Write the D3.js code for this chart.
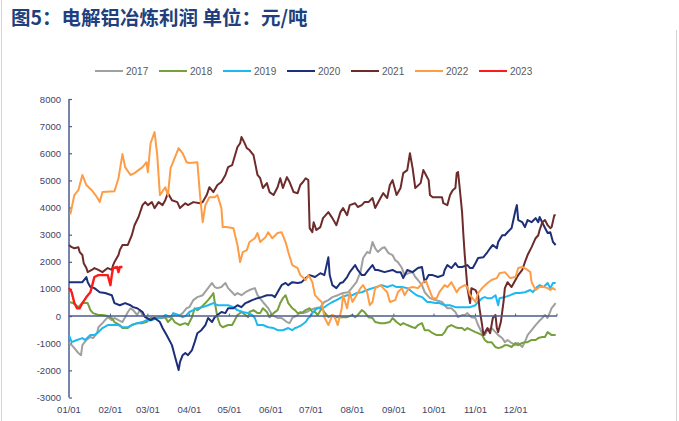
<!DOCTYPE html>
<html><head><meta charset="utf-8">
<script src="https://cdn.jsdelivr.net/npm/d3@7"></script>
<style>body{margin:0;background:#fff}svg{display:block}</style>
</head><body>
<svg id="c" width="679" height="421"></svg>
<script>
const title = "图5：电解铝冶炼利润 单位：元/吨";
const seriesNames = ["2017","2018","2019","2020","2021","2022","2023"];
const seriesColors = ["#a0a0a0","#76a03c","#1cb8f2","#1c2f78","#6e2b2b","#ff9c46","#ff1a1a"];
const monthLabels = ["01/01","02/01","03/01","04/01","05/01","06/01","07/01","08/01","09/01","10/01","11/01","12/01"];
const monthDays = [0,31,59,90,120,151,181,212,243,273,304,334];
const yTicks = [8000,7000,6000,5000,4000,3000,2000,1000,0,-1000,-2000,-3000];

// [day of year, profit]
const s2017 = [[0,-990],[2,-1070],[4,-1180],[7,-1360],[9,-1440],[10,-1070],[13,-880],[16,-770],[18,-810],[21,-630],[22,-410],[25,-260],[27,-150],[29,-40],[32,-150],[34,-70],[37,-150],[40,-220],[42,-40],[44,150],[46,290],[48,220],[51,40],[53,220],[55,40],[58,-40],[61,-150],[64,-70],[70,-70],[74,-40],[79,40],[83,40],[85,110],[88,290],[90,330],[93,590],[96,700],[100,770],[104,1030],[107,1220],[109,1070],[111,1030],[114,1070],[117,1220],[119,1030],[122,880],[124,770],[126,850],[129,770],[132,880],[135,960],[139,1030],[141,770],[145,520],[149,290],[152,40],[156,-70],[159,-70],[163,-220],[165,-260],[167,-70],[171,40],[173,150],[175,110],[178,150],[180,220],[184,290],[188,330],[191,520],[194,590],[197,700],[201,770],[205,850],[209,880],[212,1070],[215,1250],[218,1620],[220,2140],[223,2360],[225,2320],[227,2730],[229,2500],[231,2360],[234,2500],[236,2540],[239,2320],[242,2250],[244,2060],[246,1990],[249,1770],[251,1510],[254,1580],[257,1620],[259,1440],[261,1330],[264,1140],[266,880],[270,660],[274,590],[279,520],[281,400],[283,290],[286,290],[289,150],[291,-40],[294,40],[296,40],[298,110],[301,-40],[304,-70],[306,-330],[309,-630],[311,-700],[313,-520],[316,-440],[319,-590],[321,-700],[324,-810],[326,-960],[328,-880],[331,-990],[334,-1070],[336,-990],[339,-1140],[341,-960],[343,-700],[346,-520],[349,-330],[351,-220],[354,-70],[356,40],[358,-70],[361,290],[364,480]];
const s2018 = [[0,520],[3,480],[7,330],[10,480],[14,480],[16,220],[18,110],[22,40],[25,40],[29,0],[32,-70],[34,-220],[38,-330],[40,-440],[44,-440],[47,-330],[51,-260],[55,-260],[58,-220],[61,-70],[64,-70],[68,-40],[72,-40],[74,-220],[77,-70],[79,-220],[83,-330],[87,-260],[89,-330],[92,-40],[94,290],[96,220],[99,330],[102,480],[104,590],[107,770],[108,850],[109,520],[111,-40],[113,-330],[115,-410],[119,-330],[122,-330],[124,-150],[126,40],[129,150],[132,40],[134,-40],[135,150],[138,220],[141,110],[143,110],[145,290],[148,150],[150,-40],[153,110],[156,220],[158,480],[160,660],[162,770],[164,480],[167,290],[169,220],[171,110],[174,110],[177,220],[180,290],[182,150],[184,150],[186,40],[189,290],[191,150],[194,-40],[197,40],[200,-40],[204,-40],[208,-40],[212,40],[214,-40],[216,40],[219,220],[221,150],[224,-40],[227,-70],[229,-220],[233,-260],[236,-260],[240,-220],[242,-70],[245,-220],[248,-330],[250,-260],[253,-330],[257,-410],[259,-440],[261,-330],[264,-260],[266,-520],[269,-520],[272,-630],[275,-700],[279,-700],[281,-590],[283,-410],[286,-330],[289,-410],[291,-440],[294,-440],[296,-520],[298,-440],[301,-520],[304,-590],[306,-630],[309,-700],[311,-880],[313,-960],[316,-960],[319,-1140],[321,-1180],[324,-1140],[326,-1070],[328,-1070],[331,-1140],[334,-990],[336,-1070],[339,-990],[341,-960],[343,-960],[346,-880],[349,-880],[351,-810],[354,-770],[356,-770],[358,-590],[361,-700],[364,-700]];
const s2019 = [[0,-700],[2,-960],[6,-880],[10,-810],[12,-880],[16,-700],[19,-700],[22,-590],[25,-440],[29,-330],[33,-330],[37,-330],[40,-410],[44,-410],[47,-330],[51,-260],[55,-220],[58,-150],[62,-150],[66,-70],[70,-40],[72,40],[76,-40],[78,110],[82,40],[85,-40],[88,40],[90,150],[93,220],[96,290],[100,330],[104,400],[108,480],[111,400],[115,400],[119,400],[123,330],[126,220],[130,150],[134,110],[137,40],[139,-70],[141,-330],[145,-330],[149,-410],[153,-440],[156,-520],[160,-520],[164,-440],[167,-520],[169,-440],[171,-410],[174,-330],[177,-220],[179,-70],[180,-40],[182,110],[184,220],[186,290],[190,290],[193,400],[197,520],[200,590],[204,700],[208,770],[212,770],[215,850],[219,880],[223,960],[227,1030],[230,1070],[234,1140],[238,1070],[242,1140],[245,1070],[249,1070],[253,1030],[257,880],[260,770],[264,700],[268,520],[270,520],[274,480],[277,480],[281,400],[285,400],[289,330],[292,330],[296,330],[300,330],[304,400],[306,520],[309,660],[311,700],[313,660],[316,660],[319,770],[321,400],[322,660],[326,700],[330,770],[334,850],[337,850],[341,880],[345,960],[347,880],[350,1070],[352,1140],[355,1070],[358,1220],[360,1030],[362,1220],[364,1220]];
const s2020 = [[0,1250],[7,1250],[10,1250],[13,1440],[14,1250],[16,1070],[19,1030],[23,880],[27,850],[32,770],[34,480],[38,400],[42,480],[46,400],[48,330],[51,290],[55,150],[57,-40],[61,-150],[64,-70],[68,-220],[70,-440],[73,-700],[77,-1070],[79,-1440],[82,-1990],[83,-1700],[85,-1440],[87,-1360],[89,-1440],[92,-1250],[94,-960],[96,-630],[99,-520],[102,-330],[104,-70],[107,-220],[109,-40],[111,40],[114,150],[117,110],[119,290],[123,290],[126,400],[129,330],[132,480],[134,520],[137,590],[141,660],[144,700],[148,770],[152,770],[154,700],[156,880],[159,1140],[162,1220],[164,1140],[167,1250],[171,1220],[174,1250],[177,1400],[180,1510],[184,1440],[188,1580],[191,1510],[194,2170],[195,1510],[197,1140],[200,1030],[203,1220],[205,1250],[208,1440],[210,1620],[214,1880],[216,1700],[219,1510],[221,1510],[224,1700],[227,1880],[229,1700],[231,1700],[236,1620],[242,1700],[245,1620],[248,1620],[250,1400],[253,1700],[257,1620],[261,1770],[264,1810],[266,1250],[269,1510],[272,1510],[276,1440],[280,1510],[281,1700],[283,1880],[286,1770],[289,1950],[291,1810],[294,1810],[298,1880],[300,1770],[302,1770],[304,1950],[306,2140],[310,2170],[313,2360],[315,2500],[317,2620],[320,2500],[321,2730],[324,2980],[326,2980],[328,3090],[331,3240],[334,3910],[335,4090],[336,3540],[339,3460],[341,3280],[343,3540],[346,3460],[349,3610],[351,3460],[352,3650],[355,3350],[358,3060],[360,3090],[362,2730],[364,2620]];
const s2021 = [[0,2620],[2,2540],[4,2500],[7,2540],[8,2360],[10,2250],[11,1950],[13,1770],[14,1620],[17,1700],[19,1770],[22,1700],[25,1620],[29,1770],[32,1700],[33,1880],[34,1990],[37,2250],[38,2430],[40,2620],[44,2620],[47,2980],[49,3350],[52,3650],[55,4090],[57,4200],[59,4090],[62,4200],[64,3980],[67,4200],[70,4090],[72,4270],[74,4530],[77,4270],[81,4200],[83,3980],[87,4160],[89,4090],[93,4200],[98,4160],[100,4200],[103,4460],[105,4750],[108,4570],[111,4830],[114,4940],[117,5200],[119,5490],[122,5560],[126,6230],[128,6370],[129,6600],[131,6410],[133,6190],[135,6120],[138,5930],[141,5200],[143,5080],[145,4720],[148,4900],[150,4570],[153,4460],[156,4750],[158,5080],[160,4720],[163,5120],[165,4940],[168,4570],[171,4530],[173,4830],[175,4940],[177,5080],[179,5010],[180,3240],[182,3090],[183,3460],[185,3170],[188,3280],[190,3610],[194,3830],[197,3610],[200,3350],[203,3830],[205,3980],[208,3720],[210,4090],[214,4160],[216,4020],[219,4090],[221,4200],[224,4200],[227,4350],[229,3980],[233,4350],[235,4530],[238,4350],[240,4830],[242,5010],[245,4460],[248,4720],[250,5270],[253,5380],[255,6000],[257,5450],[259,4720],[263,4900],[265,5380],[267,5200],[269,5010],[270,4460],[272,4380],[276,4380],[279,4380],[280,4160],[283,4090],[285,4460],[287,4640],[289,4720],[290,5270],[291,5310],[292,4830],[294,3830],[295,2980],[296,2250],[298,1030],[300,480],[301,1030],[304,960],[306,770],[307,290],[309,-330],[310,-700],[313,-440],[315,-630],[317,-70],[319,40],[320,-440],[321,-590],[323,-220],[325,520],[326,1030],[328,1250],[331,1070],[333,1250],[336,1510],[339,1700],[341,1990],[343,2250],[346,2540],[349,2870],[351,2980],[352,3170],[354,3460],[356,3540],[358,3350],[360,3240],[361,3280],[363,3720],[364,3720]];
const s2022 = [[1,3750],[4,4460],[7,4640],[10,5200],[13,4830],[17,4640],[21,4380],[23,4200],[25,4570],[34,4600],[37,5080],[40,5970],[42,5490],[46,5200],[49,5270],[55,5490],[58,5670],[59,5300],[61,6370],[64,6780],[66,5930],[68,4460],[72,4750],[74,4460],[76,5450],[79,5820],[82,6190],[85,6000],[88,5670],[90,5640],[96,5670],[98,4460],[100,3460],[102,4090],[105,4380],[109,4380],[111,4460],[114,3980],[115,3280],[118,3280],[123,3240],[126,2620],[128,1990],[130,2360],[133,2430],[135,2730],[139,2870],[141,3060],[143,2730],[147,2910],[149,3090],[152,2870],[156,3060],[159,3090],[162,2730],[164,2360],[167,1880],[171,1770],[173,1510],[177,1330],[179,1510],[180,1440],[182,1250],[184,770],[186,660],[189,520],[191,-40],[194,-330],[197,40],[199,-70],[201,-330],[204,290],[205,770],[208,290],[210,880],[212,520],[215,770],[218,1030],[220,1140],[223,880],[225,400],[227,520],[229,1030],[233,1140],[235,1030],[238,880],[240,520],[244,590],[246,880],[249,1030],[251,770],[254,1030],[257,1070],[261,1030],[265,1250],[267,1300],[269,1030],[272,660],[275,660],[277,880],[281,1140],[283,1070],[286,1250],[290,880],[292,1030],[296,1140],[298,1070],[300,770],[304,520],[306,850],[309,1030],[313,1220],[316,1330],[320,1400],[322,1580],[326,1620],[330,1400],[334,1440],[336,1770],[339,1810],[343,1700],[345,1620],[346,1250],[349,960],[352,1070],[355,1070],[358,1030],[360,960],[362,1030],[364,960]];
const s2023 = [[0,1030],[2,880],[4,480],[6,290],[8,290],[10,480],[13,700],[16,880],[18,1250],[19,1440],[22,1510],[25,1510],[29,1510],[31,1140],[32,1510],[33,1770],[36,1810],[37,1620],[38,1810],[40,1810]];
const allSeries = [s2017,s2018,s2019,s2020,s2021,s2022,s2023];

const svg = d3.select("#c");
const axisColor = "#4b5d8c";
const x = d3.scaleLinear().domain([0,365]).range([69,557]);
const y = d3.scaleLinear().domain([-3000,8000]).range([397.5,99]);

// frame
svg.append("line").attr("x1",1.5).attr("x2",1.5).attr("y1",0).attr("y2",421).attr("stroke","#d4d4d4");
svg.append("line").attr("x1",676.5).attr("x2",676.5).attr("y1",30).attr("y2",421).attr("stroke","#d4d4d4");

svg.append("text").attr("x",11).attr("y",25).attr("font-family","'Noto Sans CJK SC'")
  .attr("font-weight","bold").attr("font-size",19.5).attr("fill","#203f7c").text(title);

// legend
const lg = svg.append("g");
seriesNames.forEach((n,i)=>{
  const lx = 95 + i*64;
  lg.append("line").attr("x1",lx).attr("x2",lx+28).attr("y1",71).attr("y2",71)
    .attr("stroke",seriesColors[i]).attr("stroke-width",2);
  lg.append("text").attr("x",lx+31).attr("y",74.5).attr("font-family","Arial, 'Liberation Sans'")
    .attr("font-size",10).attr("fill","#595959").text(n);
});

// y axis
const yAxis = d3.axisRight(y).tickValues(yTicks).tickSize(3).tickFormat("");
const gy = svg.append("g").attr("transform","translate(69,0)").call(yAxis);
gy.select(".domain").attr("stroke",axisColor).attr("stroke-width",1.5).attr("d","M0,99V397.5");
gy.selectAll(".tick line").attr("stroke",axisColor).attr("stroke-width",1.2);
svg.append("g").selectAll("text").data(yTicks).join("text")
  .attr("x",61).attr("y",d=>y(d)+3.5).attr("text-anchor","end")
  .attr("font-family","Arial, 'Liberation Sans'").attr("font-size",9.5).attr("fill","#3f4466")
  .text(d=>d);

// x labels
svg.append("g").selectAll("text").data(monthLabels).join("text")
  .attr("x",(d,i)=>x(monthDays[i])).attr("y",413).attr("text-anchor","middle")
  .attr("font-family","Arial, 'Liberation Sans'").attr("font-size",9.5).attr("fill","#3f4466")
  .text(d=>d);

// series lines
const line = d3.line().x(d=>x(d[0])).y(d=>y(d[1]));
allSeries.forEach((s,i)=>{
  svg.append("path").datum(s).attr("d",line).attr("fill","none")
    .attr("stroke",seriesColors[i]).attr("stroke-width", i===6?2.4:2).attr("stroke-linejoin","round");
});

// zero line with month ticks
svg.append("line").attr("x1",69).attr("x2",557).attr("y1",y(0)).attr("y2",y(0))
  .attr("stroke",axisColor).attr("stroke-width",1.5);
svg.append("g").selectAll("line").data(monthDays.slice(1).concat([365])).join("line")
  .attr("x1",d=>x(d)).attr("x2",d=>x(d)).attr("y1",y(0)).attr("y2",y(0)-2.5)
  .attr("stroke",axisColor).attr("stroke-width",1);
</script>
</body></html>
